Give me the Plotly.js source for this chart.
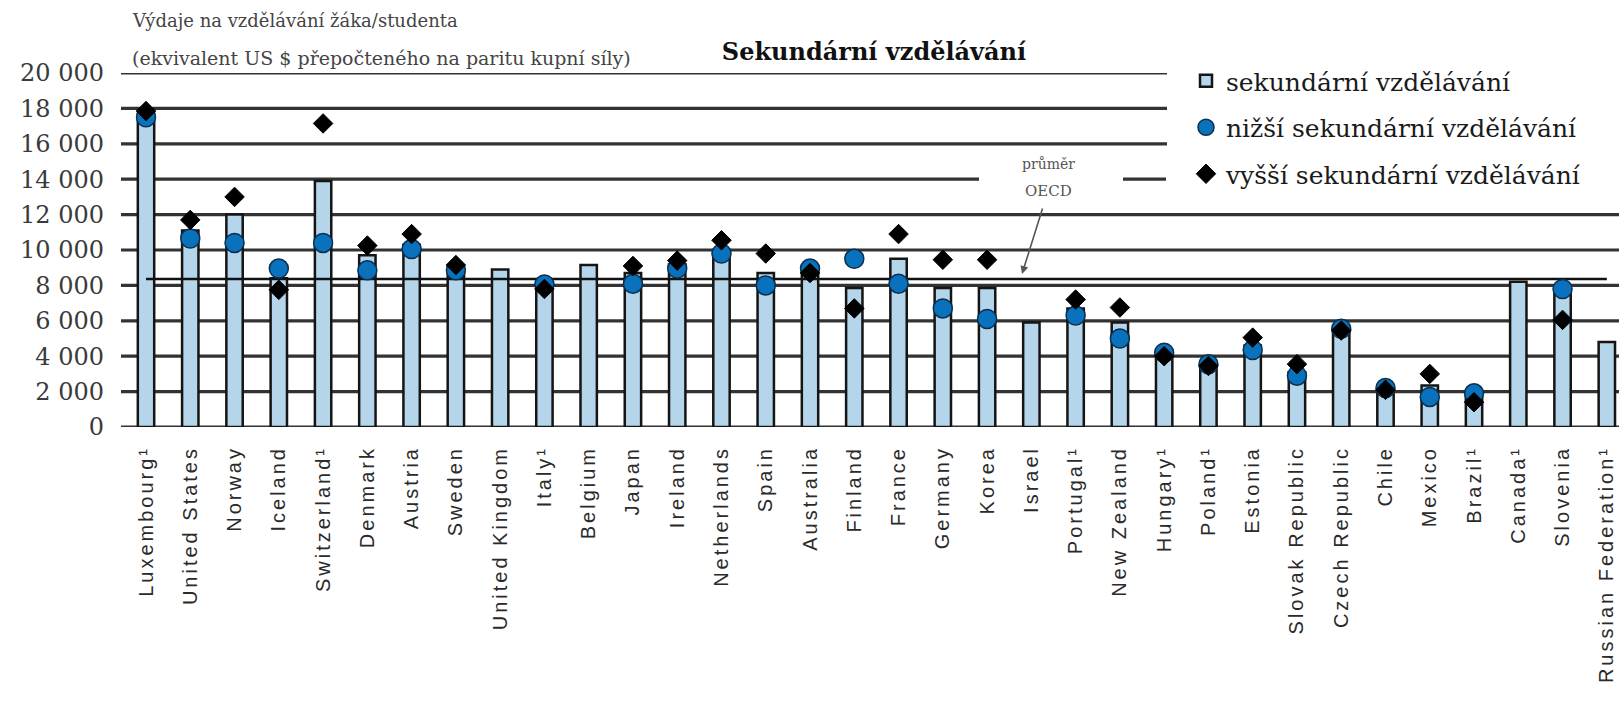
<!DOCTYPE html>
<html><head><meta charset="utf-8">
<script src="https://cdn.plot.ly/plotly-3.0.1.min.js"></script>
<style>
html,body{margin:0;padding:0;background:#fff;}
#chart{width:1619px;height:704px;}
.xtick text{letter-spacing:3px;}
</style></head><body><div id="chart"></div>
<script>
const categories = ["Luxembourg¹","United States","Norway","Iceland","Switzerland¹","Denmark","Austria","Sweden","United Kingdom","Italy¹","Belgium","Japan","Ireland","Netherlands","Spain","Australia","Finland","France","Germany","Korea","Israel","Portugal¹","New Zealand","Hungary¹","Poland¹","Estonia","Slovak Republic","Czech Republic","Chile","Mexico","Brazil¹","Canada¹","Slovenia","Russian Federation¹"];
const secondary = [17700,11100,12000,8400,13900,9700,10300,9000,8900,7950,9150,8700,9200,10000,8700,8800,7850,9500,7850,7850,5900,6700,5900,4100,3500,4600,3100,5500,2100,2350,1700,8200,7600,4800];
const lowerSecondary = [17500,10650,10400,8950,10400,8850,10050,8850,null,8050,null,8100,8950,9800,8000,8950,9500,8100,6700,6100,null,6300,5000,4200,3550,4350,2900,5550,2200,1700,1900,null,7800,null];
const upperSecondary = [17850,11700,13000,7750,17150,10250,10900,9150,null,7800,null,9100,9400,10550,9800,8700,6700,10900,9450,9450,null,7200,6750,4000,3450,5050,3550,5450,2100,3000,1400,null,6050,null];
const oecdAverage = 8360;
const seriesNames = ["sekundární vzdělávání","nižší sekundární vzdělávání","vyšší sekundární vzdělávání"];
const yTickValues = [0,2000,4000,6000,8000,10000,12000,14000,16000,18000,20000];
const yTickLabels = ["0","2 000","4 000","6 000","8 000","10 000","12 000","14 000","16 000","18 000","20 000"];
const axisTitleLines = ["Výdaje na vzdělávání žáka/studenta","(ekvivalent US $ přepočteného na paritu kupní síly)"];
const chartTitle = "Sekundární vzdělávání";
const oecdLabel = ["průměr","OECD"];

const L = 121, W = 1498, T = 73, H = 354;
const px = x => (x - L) / W;
const py = y => (T + H - y) / H;

const shapes = [];
yTickValues.forEach(v => {
  let segs;
  if (v >= 16000) segs = [[0, px(1167)]];
  else if (v === 14000) segs = [[0, px(979)], [px(1123), px(1166)]];
  else segs = [[0, 1]];
  segs.forEach(s => shapes.push({type:'line', xref:'paper', yref:'y', x0:s[0], x1:s[1], y0:v, y1:v,
    line:{color:'#333', width:3.2}, layer:'below'}));
});

const traces = [
  {type:'bar', x:categories, y:secondary, name:seriesNames[0], width:0.37,
   marker:{color:'#b4d5ea', line:{color:'#151515', width:2.5}}, legendgroup:'a'},
  {type:'scatter', mode:'lines', x:[categories[0], categories[categories.length-1]], y:[oecdAverage, oecdAverage],
   line:{color:'#111', width:2.5}, showlegend:false, hoverinfo:'skip'},
  {type:'scatter', mode:'markers', x:categories, y:lowerSecondary, name:seriesNames[1], legendgroup:'b',
   marker:{symbol:'circle', size:19, color:'#0a72bd', line:{color:'#0b2f4f', width:1.5}}, cliponaxis:false},
  {type:'scatter', mode:'markers', x:categories, y:upperSecondary, name:seriesNames[2], legendgroup:'c',
   marker:{symbol:'diamond', size:15, color:'#000', line:{color:'#000', width:1}}, cliponaxis:false}
];

const annotations = [
  {xref:'paper', yref:'paper', x:px(130), y:py(20), xanchor:'left', yanchor:'middle', showarrow:false,
   text:axisTitleLines[0], font:{family:'DejaVu Serif', size:18, color:'#444'}},
  {xref:'paper', yref:'paper', x:px(130), y:py(58), xanchor:'left', yanchor:'middle', showarrow:false,
   text:axisTitleLines[1], font:{family:'DejaVu Serif', size:19, color:'#444'}},
  {xref:'paper', yref:'paper', x:px(1048), y:py(164), xanchor:'center', yanchor:'middle', showarrow:false,
   text:oecdLabel[0], font:{family:'DejaVu Serif', size:14, color:'#555'}},
  {xref:'paper', yref:'paper', x:px(1048), y:py(191), xanchor:'center', yanchor:'middle', showarrow:false,
   text:oecdLabel[1], font:{family:'DejaVu Serif', size:15, color:'#555'}},
  {xref:'paper', yref:'paper', x:px(1022), y:py(274), ax:px(1043), ay:py(207), axref:'paper', ayref:'paper',
   showarrow:true, text:'', arrowhead:2, arrowsize:1, arrowwidth:1.6, arrowcolor:'#555'}
];

const layout = {
  width:1619, height:704,
  margin:{l:L, r:1619-L-W, t:T, b:704-T-H},
  paper_bgcolor:'#fff', plot_bgcolor:'#fff',
  title:{text:chartTitle, font:{family:'DejaVu Serif', size:24, weight:700, color:'#111'},
    xref:'container', yref:'container', x:874/1619, y:1-52/704, xanchor:'center', yanchor:'middle'},
  xaxis:{type:'category', range:[-0.565, 33.275], showgrid:false, zeroline:false, showline:false,
    tickangle:-90, ticks:'', ticklabelstandoff:14,
    tickfont:{family:'Liberation Sans', size:20, color:'#2a2a2a'}},
  yaxis:{range:[0,20000], showgrid:false, zeroline:false, showline:false,
    tickvals:yTickValues, ticktext:yTickLabels, ticks:'', ticklabelstandoff:16,
    tickfont:{family:'DejaVu Serif', size:24, color:'#3a3a3a'}},
  showlegend:true,
  legend:{x:px(1186), y:py(58), xanchor:'left', yanchor:'top', xref:'paper', yref:'paper',
    traceorder:'grouped', tracegroupgap:11, bgcolor:'rgba(0,0,0,0)',
    font:{family:'DejaVu Serif', size:25, color:'#1a1a1a'}},
  bargap:0.5,
  shapes:shapes, annotations:annotations
};

Plotly.newPlot('chart', traces, layout, {displayModeBar:false, staticPlot:true});
</script></body></html>
